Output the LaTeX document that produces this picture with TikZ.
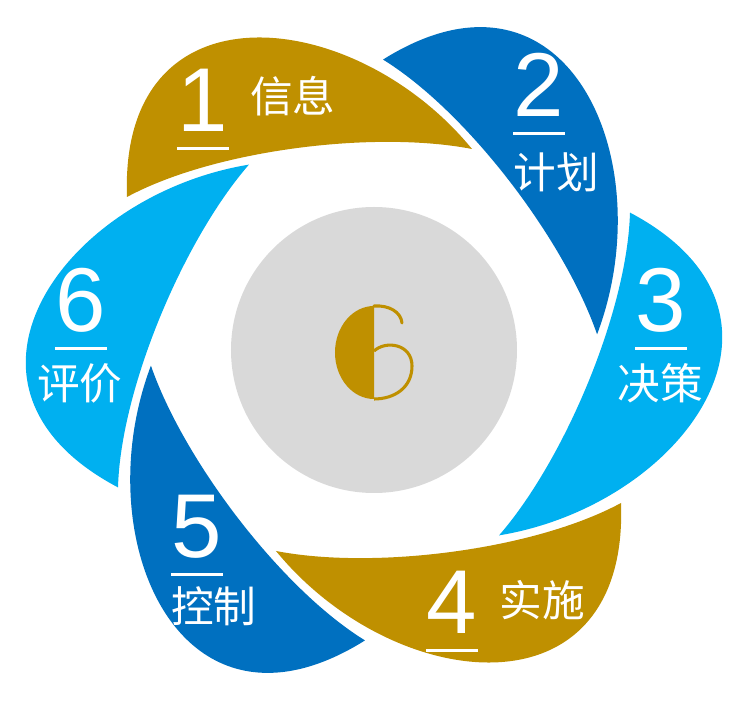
\documentclass[tikz,border=0pt]{standalone}
\usepackage{fontspec}
\newfontfamily\cjk{Noto Sans CJK SC}
\newfontfamily\numfont{Liberation Sans}
\usepackage{xcolor}
\definecolor{gold}{HTML}{BF9000}
\definecolor{dblue}{HTML}{0070C0}
\definecolor{lblue}{HTML}{00B0F0}
\definecolor{disc}{HTML}{D9D9D9}
\begin{document}
\begin{tikzpicture}[x=0.75pt,y=0.75pt,
num/.style={white,inner sep=0pt,anchor=base,font=\numfont\fontsize{68}{68}\selectfont},
lab/.style={white,inner sep=0pt,font=\cjk\fontsize{32}{32}\selectfont},
bar/.style={white,line width=2.25pt}]
\useasboundingbox (-374,-359) rectangle (368,350);
% petals
\foreach \ang/\col in {0/gold,-60/dblue,-120/lblue,-180/gold,-240/dblue,-300/lblue}
{\fill[\col,rotate=\ang] (-247,153) .. controls (-255,370) and (-20,345) .. (98,201)
  .. controls (0,220) and (-160,200) .. (-247,153) -- cycle;}
% hub
\node[circle,fill=disc,minimum size=214.5pt,inner sep=0pt] (hub) at (0,0) {};
\fill[gold] (0,44) arc[start angle=90,end angle=270,x radius=39,y radius=46.5] -- cycle;
\draw[gold,line width=2.3pt,line cap=round] (0,44) .. controls (15,45) and (27,38) .. (28,27);
\draw[gold,line width=2.3pt] (0,-1) .. controls (12,10) and (38,6) .. (38,-16)
  .. controls (38,-38) and (20,-49) .. (0,-49);
% numbers
\foreach \i/\x/\y in {1/-171/218,2/165/233,3/287/18,4/78/-283,5/-177/-208,6/-293/18}
{\node[num] (n\i) at (\x,\y) {\i};
 \draw[bar] ([xshift=-19.5pt,yshift=-12.75pt]n\i.base) -- ++(52,0);}
% labels
\node[lab] (t1) at (-81,254) {信息};
\node[lab] (t2) at (182,178) {计划};
\node[lab] (t3) at (286,-33) {决策};
\node[lab] (t4) at (168,-250) {实施};
\node[lab] (t5) at (-160,-256) {控制};
\node[lab] (t6) at (-294,-33) {评价};
\end{tikzpicture}
\end{document}
